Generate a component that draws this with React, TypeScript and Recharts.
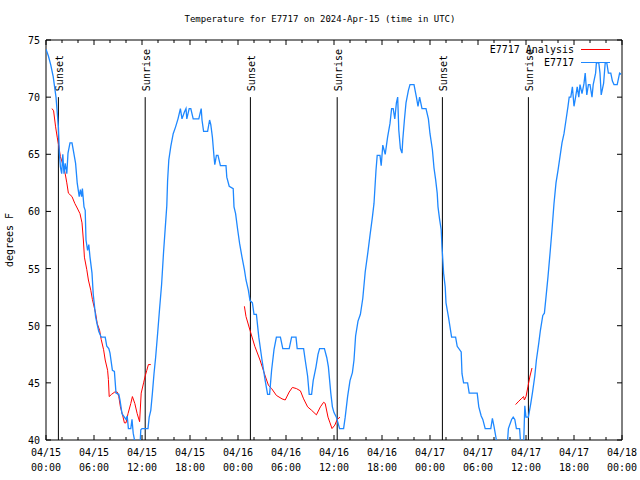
import { LineChart, Line, XAxis, YAxis, ReferenceLine, ReferenceArea } from 'recharts';

// hours since 04/15 00:00 UTC, observed temps (deg F)
const obsHours = [
  0.0, 0.3, 0.6, 0.9, 1.25, 1.55, 1.67, 1.8, 1.96, 2.1, 2.25, 2.4, 2.6, 2.75, 3.0, 3.25, 3.4, 3.7, 3.9, 4.15,
  4.3, 4.45, 4.55, 4.75, 4.9, 5.0, 5.2, 5.35, 5.5, 5.75, 5.9, 6.2, 6.4, 6.6, 6.9, 7.4, 7.6, 7.85, 8.0, 8.3,
  8.55, 8.75, 9.1, 9.25, 9.5, 9.8, 10.0, 10.15, 10.3, 10.6, 10.75, 10.9, 11.2, 11.5, 11.75, 11.85, 12.0, 12.75, 12.9, 13.1,
  13.3, 13.5, 13.7, 13.95, 14.2, 14.45, 14.7, 14.95, 15.1, 15.2, 15.35, 15.6, 15.9, 16.2, 16.5, 16.8, 17.0, 17.3, 17.5, 17.6,
  17.9, 18.1, 18.4, 19.1, 19.4, 19.5, 19.7, 20.2, 20.45, 20.6, 20.8, 21.0, 21.1, 21.3, 21.5, 21.8, 22.5, 22.6, 22.9, 23.4,
  23.5, 23.7, 23.96, 24.2, 24.5, 24.8, 25.0, 25.3, 25.5, 25.8, 26.0, 26.3, 26.6, 27.0, 27.4, 27.7, 27.95, 28.2, 28.5, 28.8,
  29.3, 29.6, 30.4, 30.7, 31.25, 31.4, 32.2, 32.4, 32.7, 32.9, 33.2, 33.4, 33.75, 34.0, 34.2, 34.8, 35.1, 35.3, 35.6, 35.8,
  36.0, 36.3, 36.7, 37.2, 37.4, 37.7, 38.0, 38.3, 38.5, 38.7, 39.0, 39.3, 39.6, 39.9, 40.25, 40.5, 40.8, 41.0, 41.25, 41.4,
  41.75, 41.9, 42.1, 42.4, 42.7, 43.0, 43.2, 43.4, 43.6, 43.8, 43.96, 44.1, 44.3, 44.5, 44.6, 44.8, 45.0, 45.3, 45.5, 46.0,
  46.3, 46.5, 46.7, 47.0, 47.5, 47.8, 48.0, 48.3, 48.5, 48.7, 48.9, 49.0, 49.2, 49.4, 49.5, 49.6, 49.7, 49.9, 50.0, 50.3,
  50.5, 50.7, 51.2, 51.4, 51.9, 52.0, 52.2, 52.7, 52.9, 53.9, 54.1, 54.4, 54.6, 54.9, 55.6, 55.8, 56.0, 56.3, 56.6, 57.6,
  57.8, 58.2, 58.4, 58.6, 58.8, 59.2, 59.3, 59.5, 59.7, 59.85, 60.0, 60.3, 60.6, 60.8, 61.1, 61.3, 61.6, 61.8, 62.1, 62.3,
  62.5, 62.75, 63.0, 63.25, 63.5, 63.75, 64.0, 64.25, 64.5, 64.75, 65.0, 65.25, 65.4, 65.6, 65.8, 66.0, 66.2, 66.4, 66.6, 66.75,
  67.0, 67.25, 67.4, 67.6, 67.8, 68.0, 68.25, 68.4, 68.7, 68.8, 69.1, 69.25, 69.4, 69.7, 69.9, 70.1, 70.3, 70.6, 70.8, 71.0,
  71.4, 71.7, 71.9,
];
const obsTemps = [
  74.2, 73.6, 72.8, 71.8, 70.0, 67.4, 65.1, 63.9, 63.3, 65.0, 63.3, 64.2, 63.3, 65.1, 66.0, 66.0, 65.4, 64.2, 62.5, 61.3,
  61.9, 61.3, 62.0, 60.4, 60.1, 57.5, 56.6, 57.1, 56.0, 54.6, 52.8, 50.8, 50.1, 49.5, 49.0, 49.0, 48.2, 48.0, 47.6, 46.1,
  46.0, 44.1, 44.0, 43.5, 42.3, 42.0, 41.8, 42.1, 41.0, 41.0, 41.8, 40.6, 39.5, 39.0, 39.5, 40.9, 41.0, 41.0, 42.0, 42.6,
  44.1, 45.8, 47.2, 49.3, 51.5, 53.6, 56.5, 59.0, 60.5, 62.7, 64.5, 65.7, 66.8, 67.4, 68.1, 69.0, 68.1, 68.7, 69.0, 68.1,
  69.0, 69.0, 68.1, 68.1, 69.0, 68.0, 67.0, 67.0, 68.0, 67.6, 66.5, 64.8, 64.1, 64.9, 64.9, 64.0, 64.0, 63.0, 62.2, 62.0,
  60.4, 59.8, 58.4, 57.2, 56.0, 54.9, 54.0, 53.1, 52.2, 52.0, 51.0, 51.0, 49.0, 47.0, 45.2, 44.0, 44.0, 46.1, 47.9, 49.0,
  49.0, 48.0, 48.0, 49.0, 49.0, 48.0, 48.0, 47.0, 45.6, 44.0, 44.0, 45.2, 46.4, 47.5, 48.0, 48.0, 47.2, 46.4, 44.1, 42.9,
  42.4, 42.0, 41.0, 41.0, 42.0, 43.8, 45.2, 45.9, 47.0, 49.1, 50.4, 51.0, 52.4, 54.7, 56.5, 57.9, 59.5, 60.7, 63.6, 64.9,
  64.9, 64.0, 65.8, 65.0, 66.5, 67.7, 69.0, 69.0, 68.1, 69.5, 70.0, 67.1, 65.5, 65.1, 66.3, 68.0, 69.5, 70.6, 71.1, 71.1,
  70.0, 69.2, 70.0, 69.0, 69.0, 68.1, 66.8, 65.4, 63.8, 62.8, 61.6, 60.4, 59.3, 58.4, 56.9, 55.8, 54.6, 53.4, 52.0, 50.8,
  49.9, 49.0, 49.0, 48.2, 47.7, 45.8, 45.0, 45.0, 44.1, 44.1, 42.9, 42.1, 41.8, 41.0, 41.0, 41.9, 41.2, 40.0, 39.0, 39.0,
  41.0, 41.8, 42.0, 41.8, 41.0, 41.0, 40.0, 39.0, 39.5, 43.0, 42.0, 42.0, 43.2, 44.1, 45.6, 47.0, 48.5, 49.6, 50.9, 51.1,
  52.5, 54.3, 56.3, 58.4, 60.7, 62.5, 63.6, 64.8, 66.0, 66.8, 68.0, 69.2, 70.0, 70.0, 70.9, 69.2, 70.0, 70.9, 70.0, 71.1,
  70.3, 71.2, 72.1, 70.2, 71.1, 71.1, 70.0, 71.1, 72.1, 73.0, 73.0, 72.1, 70.2, 71.2, 73.0, 73.0, 72.1, 72.1, 71.4, 71.1,
  71.1, 72.1, 72.0,
];

// analysis series, null = gap between runs
const anaHours = [
  0.75, 0.95, 1.2, 1.4, 1.6, 1.8, 2.2, 2.4, 2.6, 2.8, 3.25, 3.6, 3.9, 4.25, 4.5, 4.67, 4.8, 5.1, 5.3, 5.6,
  5.8, 6.2, 6.4, 6.7, 6.9, 7.2, 7.4, 7.7, 7.8, 7.9, 8.2, 8.6, 8.9, 9.1, 9.3, 9.6, 9.8, 10.0, 10.25, 10.6,
  10.8, 11.1, 11.4, 11.7, 11.9, 12.2, 12.4, 12.6, 12.8, 13.1, 18.0,
  24.8, 25.0, 25.5, 26.1, 26.75, 27.4, 27.8, 28.2, 28.8, 29.5, 29.9, 30.4, 30.8, 31.3, 31.8, 32.2, 32.7, 33.2, 33.8, 34.3,
  34.7, 34.9, 35.25, 35.5, 35.75, 36.1, 36.4, 36.75, 48.0,
  58.7, 59.1, 59.4, 59.7, 59.8, 60.0, 60.25, 60.5, 60.75,
];
const anaTemps = [
  69.0, 68.8, 67.4, 66.5, 65.7, 64.8, 63.9, 63.3, 62.5, 61.6, 61.3, 60.7, 60.3, 59.8, 59.0, 57.5, 56.0, 54.9, 54.0, 53.1,
  52.3, 51.1, 50.2, 49.6, 48.8, 47.9, 47.0, 46.1, 45.3, 43.8, 44.0, 44.2, 44.2, 43.8, 42.9, 42.1, 41.5, 41.5, 42.3, 43.2,
  43.8, 43.2, 42.3, 41.6, 44.1, 45.0, 45.6, 46.1, 46.6, 46.6, null,
  51.7, 50.8, 49.6, 48.2, 47.0, 45.6, 44.8, 44.5, 43.9, 43.6, 43.5, 44.2, 44.6, 44.5, 44.3, 43.6, 42.9, 42.6, 42.2, 42.9,
  43.3, 43.2, 42.0, 41.5, 41.0, 41.3, 41.8, 42.0, null,
  43.1, 43.4, 43.6, 43.8, 43.5, 43.8, 44.7, 45.6, 46.3,
];

const sunNames = ['Sunset', 'Sunrise', 'Sunset', 'Sunrise', 'Sunset', 'Sunrise'];
const sunHours = [1.55, 12.4, 25.55, 36.4, 49.55, 60.3];

const xTicks = [0, 2, 4, 6, 8, 10, 12, 14, 16, 18, 20, 22, 24, 26, 28, 30, 32, 34, 36, 38, 40, 42, 44, 46, 48, 50, 52, 54, 56, 58, 60, 62, 64, 66, 68, 70, 72];
const dayLabels = ['04/15', '04/15', '04/15', '04/15', '04/16', '04/16', '04/16', '04/16', '04/17', '04/17', '04/17', '04/17', '04/18'];
const timeLabels = ['00:00', '06:00', '12:00', '18:00', '00:00', '06:00', '12:00', '18:00', '00:00', '06:00', '12:00', '18:00', '00:00'];
const yTicks = [40, 45, 50, 55, 60, 65, 70, 75];

const W = 640;
const H = 480;
const LEFT = 46;
const RIGHT = 622;
const TOP = 40;
const BOTTOM = 440;
const FONT = '"DejaVu Sans Mono", monospace';
const BLUE = '#1e88ff';
const RED = '#ff0000';

const obsData = obsHours.map((h, i) => ({ h, t: obsTemps[i] }));
const anaData = anaHours.map((h, i) => ({ h, t: anaTemps[i] }));

const XTick = (props: any) => {
  const { x, y, payload } = props;
  const v = payload.value;
  const major = v % 6 === 0;
  const len = major ? 5 : 3;
  const idx = v / 6;
  return (
    <g>
      <line x1={x} y1={y} x2={x} y2={y - len} stroke="#000" />
      <line x1={x} y1={TOP} x2={x} y2={TOP + len} stroke="#000" />
      {major && (
        <text x={x} y={y} textAnchor="middle" fontFamily={FONT} fontSize={10} fill="#000">
          <tspan x={x} y={y + 16}>{dayLabels[idx]}</tspan>
          <tspan x={x} y={y + 31}>{timeLabels[idx]}</tspan>
        </text>
      )}
    </g>
  );
};

const YTick = (props: any) => {
  const { x, y, payload } = props;
  return (
    <g>
      <line x1={x} y1={y} x2={x + 5} y2={y} stroke="#000" />
      <line x1={RIGHT - 5} y1={y} x2={RIGHT} y2={y} stroke="#000" />
      <text x={x - 6} y={y + 4} textAnchor="end" fontFamily={FONT} fontSize={10} fill="#000">
        {payload.value}
      </text>
    </g>
  );
};

const sunLabel = (name: string) => (props: any) => {
  const vb = props.viewBox || {};
  const x = vb.x + 5;
  const y = vb.y - 6;
  return (
    <text x={x} y={y} transform={`rotate(-90 ${x} ${y})`} fontFamily={FONT} fontSize={10} fill="#000">
      {name}
    </text>
  );
};

export default function App() {
  return (
    <div style={{ position: 'absolute', left: 0, top: 0, width: W, height: H, background: '#fff' }}>
      <div
        style={{
          position: 'absolute', top: 12, left: 0, width: W, textAlign: 'center',
          fontFamily: FONT, fontSize: 9, lineHeight: '14px', color: '#000',
        }}
      >
        Temperature for E7717 on 2024-Apr-15 (time in UTC)
      </div>
      <div
        style={{
          position: 'absolute', left: 10, top: 240, transform: 'translate(-50%, -50%) rotate(-90deg)',
          fontFamily: FONT, fontSize: 10, lineHeight: '12px', whiteSpace: 'nowrap', color: '#000',
        }}
      >
        degrees F
      </div>
      <LineChart
        width={W}
        height={H}
        margin={{ top: TOP, right: W - RIGHT, bottom: H - BOTTOM - 1, left: LEFT - 1 }}
      >
        <XAxis
          dataKey="h"
          type="number"
          domain={[0, 72]}
          ticks={xTicks}
          interval={0}
          allowDataOverflow
          height={1}
          tickSize={0}
          tickMargin={0}
          axisLine={false}
          tickLine={false}
          tick={(p: any) => <XTick {...p} />}
        />
        <YAxis
          type="number"
          domain={[40, 75]}
          ticks={yTicks}
          interval={0}
          allowDataOverflow
          width={1}
          tickSize={0}
          tickMargin={0}
          axisLine={false}
          tickLine={false}
          tick={(p: any) => <YTick {...p} />}
        />
        <ReferenceArea x1={0} x2={72} y1={40} y2={75} fill="none" stroke="#000" strokeWidth={1} />
        {sunHours.map((h, i) => (
          <ReferenceLine
            key={i}
            segment={[{ x: h, y: 70 }, { x: h, y: 40 }]}
            stroke="#000"
            strokeWidth={1}
            label={sunLabel(sunNames[i])}
          />
        ))}
        <Line
          data={anaData}
          dataKey="t"
          type="linear"
          stroke={RED}
          strokeWidth={1}
          dot={false}
          connectNulls={false}
          isAnimationActive={false}
        />
        <Line
          data={obsData}
          dataKey="t"
          type="linear"
          stroke={BLUE}
          strokeWidth={1.3}
          dot={false}
          isAnimationActive={false}
        />
      </LineChart>
      <div style={{ position: 'absolute', top: 43, left: 0, width: W, fontFamily: FONT, fontSize: 10, color: '#000' }}>
        <div style={{ position: 'absolute', right: W - 574, top: 0, lineHeight: '13px', whiteSpace: 'nowrap' }}>E7717 Analysis</div>
        <div style={{ position: 'absolute', left: 581, top: 6, width: 29, borderTop: `1px solid ${RED}` }} />
        <div style={{ position: 'absolute', right: W - 574, top: 13, lineHeight: '13px', whiteSpace: 'nowrap' }}>E7717</div>
        <div style={{ position: 'absolute', left: 581, top: 19, width: 29, borderTop: `1.3px solid ${BLUE}` }} />
      </div>
    </div>
  );
}
